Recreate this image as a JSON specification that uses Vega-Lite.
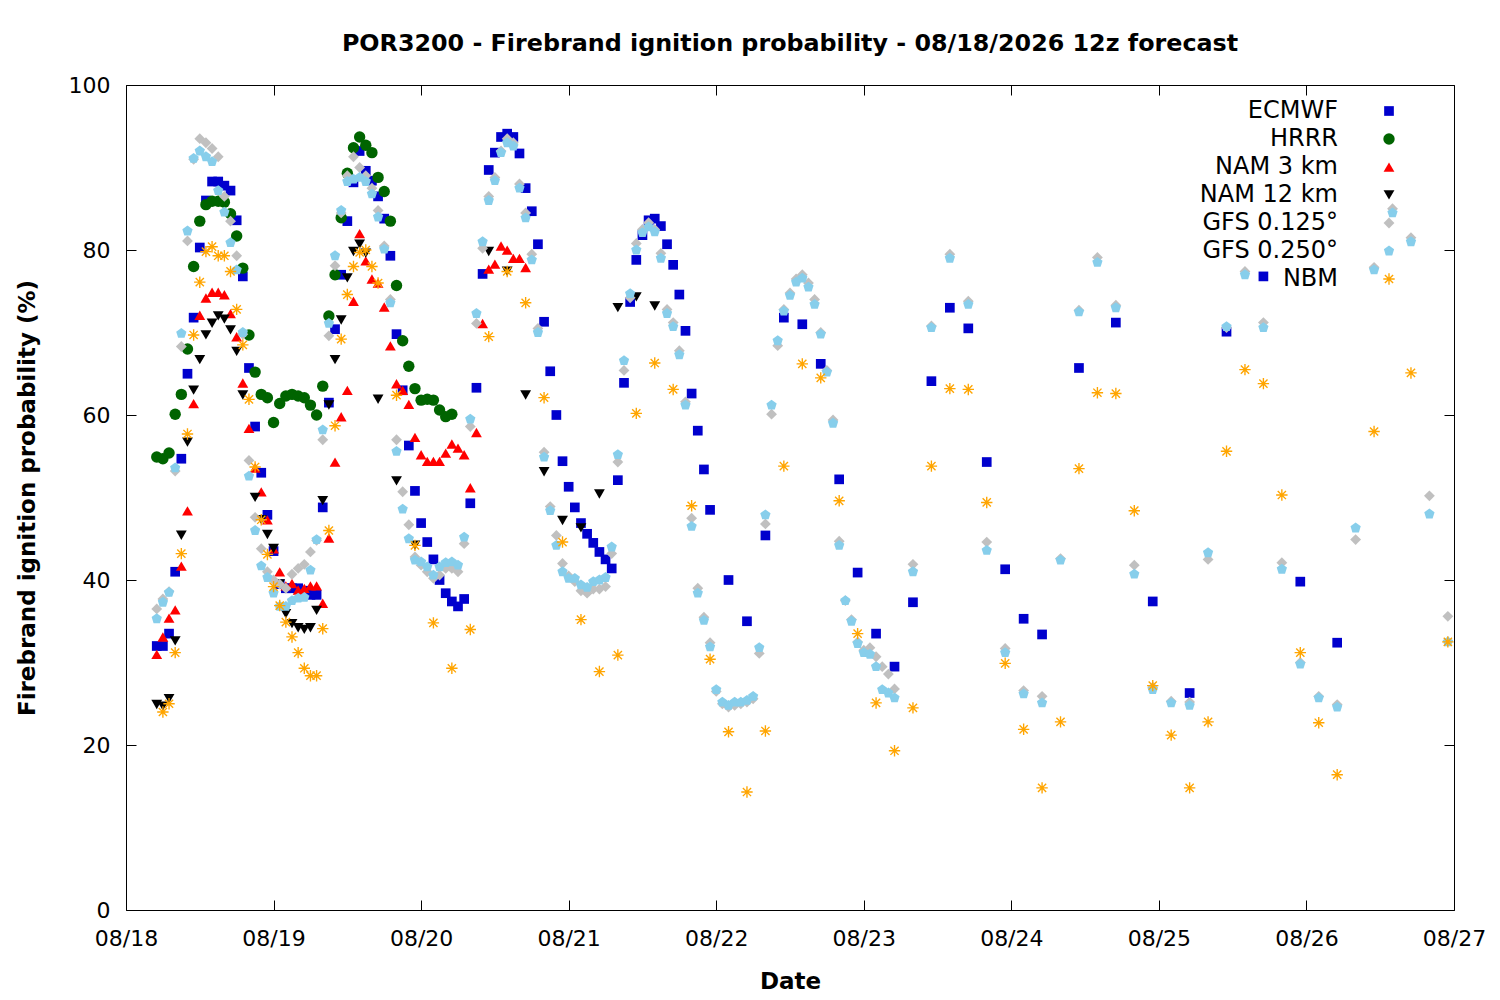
{
  "$schema": "https://vega.github.io/schema/vega-lite/v6.json",
  "width": 1328,
  "height": 825,
  "autosize": {"type": "none"},
  "padding": {"left": 126, "top": 85, "right": 46, "bottom": 90},
  "background": "white",
  "title": {
    "text": "POR3200 - Firebrand ignition probability - 08/18/2026 12z forecast",
    "font": "DejaVu Sans",
    "fontSize": 23.8,
    "fontWeight": "bold",
    "color": "black",
    "offset": 18
  },
  "datasets": {
    "models": [
      {"series": "ECMWF", "label": "ECMWF", "rank": 1},
      {"series": "HRRR", "label": "HRRR", "rank": 2},
      {"series": "NAM3", "label": "NAM 3 km", "rank": 3},
      {"series": "NAM12", "label": "NAM 12 km", "rank": 4},
      {"series": "GFS125", "label": "GFS 0.125°", "rank": 5},
      {"series": "GFS250", "label": "GFS 0.250°", "rank": 6},
      {"series": "NBM", "label": "NBM", "rank": 7}
    ],
    "forecast": [
      {"t": "2026-08-18T05:00", "ECMWF": 32.0, "HRRR": 54.9, "NAM3": 31.0, "NAM12": 24.9, "GFS125": 36.5, "GFS250": 35.3},
      {"t": "2026-08-18T06:00", "ECMWF": 32.0, "HRRR": 54.7, "NAM3": 33.1, "NAM12": 24.7, "GFS125": 37.7, "GFS250": 37.3, "NBM": 24.0},
      {"t": "2026-08-18T07:00", "ECMWF": 33.5, "HRRR": 55.4, "NAM3": 35.4, "NAM12": 25.6, "GFS125": 38.6, "GFS250": 38.5, "NBM": 25.0},
      {"t": "2026-08-18T08:00", "ECMWF": 41.0, "HRRR": 60.1, "NAM3": 36.4, "NAM12": 32.6, "GFS125": 53.2, "GFS250": 53.6, "NBM": 31.2},
      {"t": "2026-08-18T09:00", "ECMWF": 54.7, "HRRR": 62.5, "NAM3": 41.7, "NAM12": 45.4, "GFS125": 68.3, "GFS250": 69.9, "NBM": 43.2},
      {"t": "2026-08-18T10:00", "ECMWF": 65.0, "HRRR": 68.0, "NAM3": 48.4, "NAM12": 56.7, "GFS125": 81.1, "GFS250": 82.3, "NBM": 57.7},
      {"t": "2026-08-18T11:00", "ECMWF": 71.8, "HRRR": 78.0, "NAM3": 61.4, "NAM12": 63.0, "GFS125": 91.0, "GFS250": 91.1, "NBM": 69.7},
      {"t": "2026-08-18T12:00", "ECMWF": 80.3, "HRRR": 83.5, "NAM3": 72.1, "NAM12": 66.7, "GFS125": 93.5, "GFS250": 92.0, "NBM": 76.1},
      {"t": "2026-08-18T13:00", "ECMWF": 86.0, "HRRR": 85.5, "NAM3": 74.2, "NAM12": 69.7, "GFS125": 93.0, "GFS250": 91.3, "NBM": 79.8},
      {"t": "2026-08-18T14:00", "ECMWF": 88.3, "HRRR": 85.9, "NAM3": 74.9, "NAM12": 71.1, "GFS125": 92.3, "GFS250": 90.7, "NBM": 80.4},
      {"t": "2026-08-18T15:00", "ECMWF": 88.3, "HRRR": 85.9, "NAM3": 74.9, "NAM12": 72.0, "GFS125": 91.3, "GFS250": 87.2, "NBM": 79.3},
      {"t": "2026-08-18T16:00", "ECMWF": 87.8, "HRRR": 85.8, "NAM3": 74.6, "NAM12": 71.6, "GFS125": 86.5, "GFS250": 84.6, "NBM": 79.3},
      {"t": "2026-08-18T17:00", "ECMWF": 87.2, "HRRR": 84.4, "NAM3": 72.3, "NAM12": 70.3, "GFS125": 83.5, "GFS250": 80.9, "NBM": 77.4},
      {"t": "2026-08-18T18:00", "ECMWF": 83.6, "HRRR": 81.7, "NAM3": 69.5, "NAM12": 67.7, "GFS125": 79.3, "GFS250": 77.6, "NBM": 72.8},
      {"t": "2026-08-18T19:00", "ECMWF": 76.8, "HRRR": 77.8, "NAM3": 63.9, "NAM12": 62.4, "GFS125": 69.8, "GFS250": 70.0, "NBM": 68.5},
      {"t": "2026-08-18T20:00", "ECMWF": 65.7, "HRRR": 69.7, "NAM3": 58.4, "GFS125": 54.5, "GFS250": 52.6, "NBM": 61.9},
      {"t": "2026-08-18T21:00", "ECMWF": 58.6, "HRRR": 65.2, "NAM3": 53.6, "NAM12": 50.0, "GFS125": 47.6, "GFS250": 46.0, "NBM": 53.7},
      {"t": "2026-08-18T22:00", "ECMWF": 53.0, "HRRR": 62.5, "NAM3": 50.7, "NAM12": 47.3, "GFS125": 43.8, "GFS250": 41.7, "NBM": 47.3},
      {"t": "2026-08-18T23:00", "ECMWF": 47.9, "HRRR": 62.1, "NAM3": 47.3, "NAM12": 45.5, "GFS125": 41.0, "GFS250": 40.3, "NBM": 43.1},
      {"t": "2026-08-19T00:00", "ECMWF": 43.5, "HRRR": 59.1, "NAM3": 43.8, "NAM12": 43.8, "GFS125": 40.0, "GFS250": 38.4, "NBM": 39.2},
      {"t": "2026-08-19T01:00", "ECMWF": 39.5, "HRRR": 61.4, "NAM3": 41.0, "NAM12": 39.5, "GFS125": 39.5, "GFS250": 36.8, "NBM": 36.9},
      {"t": "2026-08-19T02:00", "ECMWF": 39.0, "HRRR": 62.3, "NAM3": 39.3, "NAM12": 35.9, "GFS125": 39.0, "GFS250": 36.8, "NBM": 34.9},
      {"t": "2026-08-19T03:00", "ECMWF": 39.0, "HRRR": 62.5, "NAM3": 39.6, "NAM12": 34.7, "GFS125": 40.7, "GFS250": 37.5, "NBM": 33.1},
      {"t": "2026-08-19T04:00", "ECMWF": 39.0, "HRRR": 62.3, "NAM3": 38.8, "NAM12": 34.2, "GFS125": 41.4, "GFS250": 37.8, "NBM": 31.2},
      {"t": "2026-08-19T05:00", "ECMWF": 38.7, "HRRR": 62.1, "NAM3": 39.0, "NAM12": 34.0, "GFS125": 41.9, "GFS250": 37.9, "NBM": 29.3},
      {"t": "2026-08-19T06:00", "ECMWF": 38.2, "HRRR": 61.2, "NAM3": 39.3, "NAM12": 34.2, "GFS125": 43.4, "GFS250": 41.2, "NBM": 28.4},
      {"t": "2026-08-19T07:00", "ECMWF": 38.2, "HRRR": 60.0, "NAM3": 39.3, "NAM12": 36.3, "GFS125": 44.8, "GFS250": 44.9, "NBM": 28.4},
      {"t": "2026-08-19T08:00", "ECMWF": 48.8, "HRRR": 63.5, "NAM3": 37.2, "NAM12": 49.6, "GFS125": 57.0, "GFS250": 58.2, "NBM": 34.1},
      {"t": "2026-08-19T09:00", "ECMWF": 61.5, "HRRR": 72.0, "NAM3": 45.1, "NAM12": 61.2, "GFS125": 69.6, "GFS250": 71.1, "NBM": 46.0},
      {"t": "2026-08-19T10:00", "ECMWF": 70.4, "HRRR": 77.0, "NAM3": 54.3, "NAM12": 66.7, "GFS125": 78.1, "GFS250": 79.3, "NBM": 58.7},
      {"t": "2026-08-19T11:00", "ECMWF": 77.0, "HRRR": 83.9, "NAM3": 59.8, "NAM12": 71.5, "GFS125": 84.5, "GFS250": 84.8, "NBM": 69.2},
      {"t": "2026-08-19T12:00", "ECMWF": 83.5, "HRRR": 89.3, "NAM3": 63.0, "NAM12": 76.6, "GFS125": 89.0, "GFS250": 88.3, "NBM": 74.6},
      {"t": "2026-08-19T13:00", "ECMWF": 88.2, "HRRR": 92.4, "NAM3": 73.8, "NAM12": 79.8, "GFS125": 91.3, "GFS250": 88.6, "NBM": 78.0},
      {"t": "2026-08-19T14:00", "ECMWF": 92.0, "HRRR": 93.7, "NAM3": 82.0, "NAM12": 80.7, "GFS125": 90.0, "GFS250": 88.8, "NBM": 79.7},
      {"t": "2026-08-19T15:00", "ECMWF": 89.6, "HRRR": 92.7, "NAM3": 78.7, "NAM12": 79.6, "GFS125": 89.0, "GFS250": 88.3, "NBM": 80.0},
      {"t": "2026-08-19T16:00", "ECMWF": 88.4, "HRRR": 91.8, "NAM3": 76.5, "GFS125": 87.5, "GFS250": 86.8, "NBM": 78.0},
      {"t": "2026-08-19T17:00", "ECMWF": 86.5, "HRRR": 88.8, "NAM3": 76.0, "NAM12": 61.9, "GFS125": 84.8, "GFS250": 84.0, "NBM": 76.0},
      {"t": "2026-08-19T18:00", "ECMWF": 83.8, "HRRR": 87.1, "NAM3": 73.1, "GFS125": 80.5, "GFS250": 80.1},
      {"t": "2026-08-19T19:00", "ECMWF": 79.3, "HRRR": 83.5, "NAM3": 68.4, "GFS125": 74.0, "GFS250": 73.6},
      {"t": "2026-08-19T20:00", "ECMWF": 69.8, "HRRR": 75.7, "NAM3": 63.8, "NAM12": 52.0, "GFS125": 57.0, "GFS250": 55.6, "NBM": 62.4},
      {"t": "2026-08-19T21:00", "ECMWF": 63.0, "HRRR": 69.0, "NAM3": 63.0, "GFS125": 50.7, "GFS250": 48.6},
      {"t": "2026-08-19T22:00", "ECMWF": 56.3, "HRRR": 65.9, "NAM3": 61.3, "GFS125": 46.7, "GFS250": 45.0},
      {"t": "2026-08-19T23:00", "ECMWF": 50.8, "HRRR": 63.2, "NAM3": 57.3, "NAM12": 44.2, "GFS125": 42.8, "GFS250": 42.4, "NBM": 44.2},
      {"t": "2026-08-20T00:00", "ECMWF": 46.9, "HRRR": 61.8, "NAM3": 55.2, "GFS125": 41.8, "GFS250": 42.2},
      {"t": "2026-08-20T01:00", "ECMWF": 44.6, "HRRR": 61.9, "NAM3": 54.4, "GFS125": 41.0, "GFS250": 41.6},
      {"t": "2026-08-20T02:00", "ECMWF": 42.5, "HRRR": 61.8, "NAM3": 54.4, "GFS125": 40.2, "GFS250": 40.6, "NBM": 34.8},
      {"t": "2026-08-20T03:00", "ECMWF": 40.0, "HRRR": 60.6, "NAM3": 54.4, "GFS125": 40.6, "GFS250": 41.6},
      {"t": "2026-08-20T04:00", "ECMWF": 38.4, "HRRR": 59.8, "NAM3": 55.4, "GFS125": 41.4, "GFS250": 42.1},
      {"t": "2026-08-20T05:00", "ECMWF": 37.4, "HRRR": 60.1, "NAM3": 56.5, "GFS125": 41.4, "GFS250": 42.2, "NBM": 29.3},
      {"t": "2026-08-20T06:00", "ECMWF": 36.8, "NAM3": 56.0, "GFS125": 41.0, "GFS250": 41.8},
      {"t": "2026-08-20T07:00", "ECMWF": 37.7, "NAM3": 55.2, "GFS125": 44.4, "GFS250": 45.2},
      {"t": "2026-08-20T08:00", "ECMWF": 49.3, "NAM3": 51.2, "GFS125": 58.6, "GFS250": 59.5, "NBM": 34.0},
      {"t": "2026-08-20T09:00", "ECMWF": 63.3, "NAM3": 57.9, "GFS125": 71.1, "GFS250": 72.3},
      {"t": "2026-08-20T10:00", "ECMWF": 77.1, "NAM3": 71.1, "GFS125": 80.2, "GFS250": 81.0},
      {"t": "2026-08-20T11:00", "ECMWF": 89.7, "NAM3": 77.7, "NAM12": 79.8, "GFS125": 86.5, "GFS250": 86.0, "NBM": 69.5},
      {"t": "2026-08-20T12:00", "ECMWF": 91.8, "NAM3": 78.3, "GFS125": 88.8, "GFS250": 88.4},
      {"t": "2026-08-20T13:00", "ECMWF": 93.7, "NAM3": 80.5, "GFS125": 92.0, "GFS250": 91.8},
      {"t": "2026-08-20T14:00", "ECMWF": 94.1, "NAM3": 80.0, "NAM12": 77.4, "GFS125": 93.5, "GFS250": 93.0, "NBM": 77.4},
      {"t": "2026-08-20T15:00", "ECMWF": 93.7, "NAM3": 79.0, "GFS125": 93.0, "GFS250": 92.6},
      {"t": "2026-08-20T16:00", "ECMWF": 91.7, "NAM3": 79.0, "GFS125": 88.0, "GFS250": 87.5},
      {"t": "2026-08-20T17:00", "ECMWF": 87.5, "NAM3": 77.9, "NAM12": 62.4, "GFS125": 84.5, "GFS250": 83.9, "NBM": 73.6},
      {"t": "2026-08-20T18:00", "ECMWF": 84.7, "GFS125": 79.5, "GFS250": 78.8},
      {"t": "2026-08-20T19:00", "ECMWF": 80.7, "GFS125": 70.5, "GFS250": 70.0},
      {"t": "2026-08-20T20:00", "ECMWF": 71.3, "NAM12": 53.1, "GFS125": 55.5, "GFS250": 54.9, "NBM": 62.1},
      {"t": "2026-08-20T21:00", "ECMWF": 65.3, "GFS125": 48.9, "GFS250": 48.4},
      {"t": "2026-08-20T22:00", "ECMWF": 60.0, "GFS125": 45.4, "GFS250": 44.2},
      {"t": "2026-08-20T23:00", "ECMWF": 54.4, "NAM12": 47.2, "GFS125": 42.0, "GFS250": 41.0, "NBM": 44.6},
      {"t": "2026-08-21T00:00", "ECMWF": 51.3, "GFS125": 40.5, "GFS250": 40.2},
      {"t": "2026-08-21T01:00", "ECMWF": 48.8, "GFS125": 39.8, "GFS250": 40.2},
      {"t": "2026-08-21T02:00", "ECMWF": 46.9, "NAM12": 46.3, "GFS125": 38.7, "GFS250": 39.4, "NBM": 35.2},
      {"t": "2026-08-21T03:00", "ECMWF": 45.6, "GFS125": 38.4, "GFS250": 39.1},
      {"t": "2026-08-21T04:00", "ECMWF": 44.5, "GFS125": 38.9, "GFS250": 39.8},
      {"t": "2026-08-21T05:00", "ECMWF": 43.4, "NAM12": 50.4, "GFS125": 38.9, "GFS250": 40.0, "NBM": 28.9},
      {"t": "2026-08-21T06:00", "ECMWF": 42.5, "GFS125": 39.2, "GFS250": 40.3},
      {"t": "2026-08-21T07:00", "ECMWF": 41.4, "GFS125": 43.2, "GFS250": 44.0},
      {"t": "2026-08-21T08:00", "ECMWF": 52.1, "NAM12": 73.0, "GFS125": 54.3, "GFS250": 55.2, "NBM": 30.9},
      {"t": "2026-08-21T09:00", "ECMWF": 63.9, "GFS125": 65.4, "GFS250": 66.6},
      {"t": "2026-08-21T10:00", "ECMWF": 73.7, "GFS125": 74.2, "GFS250": 74.7},
      {"t": "2026-08-21T11:00", "ECMWF": 78.8, "NAM12": 74.3, "GFS125": 80.8, "GFS250": 80.0, "NBM": 60.2},
      {"t": "2026-08-21T12:00", "ECMWF": 81.8, "GFS125": 82.5, "GFS250": 82.1},
      {"t": "2026-08-21T13:00", "ECMWF": 83.6, "GFS125": 83.3, "GFS250": 82.8},
      {"t": "2026-08-21T14:00", "ECMWF": 83.8, "NAM12": 73.2, "GFS125": 82.5, "GFS250": 82.2, "NBM": 66.3},
      {"t": "2026-08-21T15:00", "ECMWF": 82.9, "GFS125": 79.6, "GFS250": 79.0},
      {"t": "2026-08-21T16:00", "ECMWF": 80.7, "GFS125": 72.8, "GFS250": 72.3},
      {"t": "2026-08-21T17:00", "ECMWF": 78.2, "GFS125": 71.2, "GFS250": 70.7, "NBM": 63.1},
      {"t": "2026-08-21T18:00", "ECMWF": 74.6, "GFS125": 67.8, "GFS250": 67.3},
      {"t": "2026-08-21T19:00", "ECMWF": 70.2, "GFS125": 61.6, "GFS250": 61.2},
      {"t": "2026-08-21T20:00", "ECMWF": 62.6, "GFS125": 47.5, "GFS250": 46.5, "NBM": 49.0},
      {"t": "2026-08-21T21:00", "ECMWF": 58.1, "GFS125": 39.0, "GFS250": 38.4},
      {"t": "2026-08-21T22:00", "ECMWF": 53.4, "GFS125": 35.5, "GFS250": 35.1},
      {"t": "2026-08-21T23:00", "ECMWF": 48.5, "GFS125": 32.4, "GFS250": 31.9, "NBM": 30.4},
      {"t": "2026-08-22T00:00", "GFS125": 26.5, "GFS250": 26.7},
      {"t": "2026-08-22T01:00", "GFS125": 25.0, "GFS250": 25.2},
      {"t": "2026-08-22T02:00", "ECMWF": 40.0, "GFS125": 24.6, "GFS250": 24.8, "NBM": 21.6},
      {"t": "2026-08-22T03:00", "GFS125": 24.8, "GFS250": 25.2},
      {"t": "2026-08-22T04:00", "GFS125": 25.0, "GFS250": 25.2},
      {"t": "2026-08-22T05:00", "ECMWF": 35.0, "GFS125": 25.2, "GFS250": 25.4, "NBM": 14.3},
      {"t": "2026-08-22T06:00", "GFS125": 25.6, "GFS250": 25.9},
      {"t": "2026-08-22T07:00", "GFS125": 31.1, "GFS250": 31.8},
      {"t": "2026-08-22T08:00", "ECMWF": 45.4, "GFS125": 46.8, "GFS250": 47.9, "NBM": 21.7},
      {"t": "2026-08-22T09:00", "GFS125": 60.1, "GFS250": 61.2},
      {"t": "2026-08-22T10:00", "GFS125": 68.4, "GFS250": 69.0},
      {"t": "2026-08-22T11:00", "ECMWF": 71.8, "GFS125": 72.8, "GFS250": 72.6, "NBM": 53.8},
      {"t": "2026-08-22T12:00", "GFS125": 74.8, "GFS250": 74.5},
      {"t": "2026-08-22T13:00", "GFS125": 76.5, "GFS250": 76.1},
      {"t": "2026-08-22T14:00", "ECMWF": 71.0, "GFS125": 77.0, "GFS250": 76.6, "NBM": 66.2},
      {"t": "2026-08-22T15:00", "GFS125": 76.0, "GFS250": 75.5},
      {"t": "2026-08-22T16:00", "GFS125": 74.0, "GFS250": 73.4},
      {"t": "2026-08-22T17:00", "ECMWF": 66.2, "GFS125": 70.0, "GFS250": 69.8, "NBM": 64.5},
      {"t": "2026-08-22T18:00", "GFS125": 65.4, "GFS250": 65.2},
      {"t": "2026-08-22T19:00", "GFS125": 59.4, "GFS250": 59.0},
      {"t": "2026-08-22T20:00", "ECMWF": 52.2, "GFS125": 44.7, "GFS250": 44.2, "NBM": 49.6},
      {"t": "2026-08-22T21:00", "GFS125": 37.5, "GFS250": 37.5},
      {"t": "2026-08-22T22:00", "GFS125": 35.2, "GFS250": 35.0},
      {"t": "2026-08-22T23:00", "ECMWF": 40.9, "GFS125": 32.5, "GFS250": 32.3, "NBM": 33.5},
      {"t": "2026-08-23T00:00", "GFS125": 31.5, "GFS250": 31.2},
      {"t": "2026-08-23T01:00", "GFS125": 31.8, "GFS250": 31.0},
      {"t": "2026-08-23T02:00", "ECMWF": 33.5, "GFS125": 30.7, "GFS250": 29.5, "NBM": 25.1},
      {"t": "2026-08-23T03:00", "GFS125": 29.5, "GFS250": 26.7},
      {"t": "2026-08-23T04:00", "GFS125": 28.6, "GFS250": 26.3},
      {"t": "2026-08-23T05:00", "ECMWF": 29.5, "GFS125": 26.8, "GFS250": 25.7, "NBM": 19.3},
      {"t": "2026-08-23T08:00", "ECMWF": 37.3, "GFS125": 41.9, "GFS250": 41.0, "NBM": 24.5},
      {"t": "2026-08-23T11:00", "ECMWF": 64.1, "GFS125": 70.8, "GFS250": 70.6, "NBM": 53.8},
      {"t": "2026-08-23T14:00", "ECMWF": 73.0, "GFS125": 79.5, "GFS250": 79.0, "NBM": 63.2},
      {"t": "2026-08-23T17:00", "ECMWF": 70.5, "GFS125": 73.8, "GFS250": 73.4, "NBM": 63.1},
      {"t": "2026-08-23T20:00", "ECMWF": 54.3, "GFS125": 44.6, "GFS250": 43.6, "NBM": 49.4},
      {"t": "2026-08-23T23:00", "ECMWF": 41.3, "GFS125": 31.7, "GFS250": 31.2, "NBM": 29.9},
      {"t": "2026-08-24T02:00", "ECMWF": 35.3, "GFS125": 26.6, "GFS250": 26.2, "NBM": 21.9},
      {"t": "2026-08-24T05:00", "ECMWF": 33.4, "GFS125": 25.9, "GFS250": 25.1, "NBM": 14.8},
      {"t": "2026-08-24T08:00", "GFS125": 42.6, "GFS250": 42.4, "NBM": 22.8},
      {"t": "2026-08-24T11:00", "ECMWF": 65.7, "GFS125": 72.7, "GFS250": 72.5, "NBM": 53.5},
      {"t": "2026-08-24T14:00", "GFS125": 79.1, "GFS250": 78.5, "NBM": 62.7},
      {"t": "2026-08-24T17:00", "ECMWF": 71.2, "GFS125": 73.3, "GFS250": 73.0, "NBM": 62.6},
      {"t": "2026-08-24T20:00", "GFS125": 41.8, "GFS250": 40.7, "NBM": 48.4},
      {"t": "2026-08-24T23:00", "ECMWF": 37.4, "GFS125": 27.0, "GFS250": 26.7, "NBM": 27.2},
      {"t": "2026-08-25T02:00", "GFS125": 25.3, "GFS250": 25.1, "NBM": 21.2},
      {"t": "2026-08-25T05:00", "ECMWF": 26.3, "GFS125": 25.2, "GFS250": 24.8, "NBM": 14.8},
      {"t": "2026-08-25T08:00", "GFS125": 42.5, "GFS250": 43.3, "NBM": 22.8},
      {"t": "2026-08-25T11:00", "ECMWF": 70.1, "GFS125": 70.6, "GFS250": 70.7, "NBM": 55.6},
      {"t": "2026-08-25T14:00", "GFS125": 77.4, "GFS250": 77.0, "NBM": 65.5},
      {"t": "2026-08-25T17:00", "ECMWF": 76.8, "GFS125": 71.2, "GFS250": 70.6, "NBM": 63.8},
      {"t": "2026-08-25T20:00", "GFS125": 42.1, "GFS250": 41.3, "NBM": 50.3},
      {"t": "2026-08-25T23:00", "ECMWF": 39.8, "GFS125": 30.0, "GFS250": 29.8, "NBM": 31.2},
      {"t": "2026-08-26T02:00", "GFS125": 25.9, "GFS250": 25.7, "NBM": 22.7},
      {"t": "2026-08-26T05:00", "ECMWF": 32.4, "GFS125": 24.9, "GFS250": 24.6, "NBM": 16.4},
      {"t": "2026-08-26T08:00", "GFS125": 44.9, "GFS250": 46.3},
      {"t": "2026-08-26T11:00", "GFS125": 77.9, "GFS250": 77.6, "NBM": 58.0},
      {"t": "2026-08-26T14:00", "GFS125": 85.0, "GFS250": 84.5},
      {"t": "2026-08-26T17:00", "GFS125": 81.5, "GFS250": 81.0, "NBM": 65.1},
      {"t": "2026-08-26T20:00", "GFS125": 50.2, "GFS250": 48.0},
      {"t": "2026-08-26T23:00", "GFS125": 35.6, "GFS250": 32.5, "NBM": 32.5}
    ]
  },
  "data": {"name": "forecast"},
  "transform": [
    {"fold": ["ECMWF", "HRRR", "NAM3", "NAM12", "GFS125", "GFS250", "NBM"], "as": ["series", "p"]},
    {"filter": "isValid(datum.p)"},
    {"lookup": "series", "from": {"data": {"name": "models"}, "key": "series", "fields": ["label", "rank"]}}
  ],
  "layer": [
    {
      "mark": {"type": "point", "filled": true, "size": 130, "opacity": 1},
      "encoding": {
        "x": {
          "field": "t",
          "type": "temporal",
          "title": "Date",
          "scale": {"domain": [{"year": 2026, "month": 8, "date": 18}, {"year": 2026, "month": 8, "date": 27}]},
          "axis": {
            "format": "%m/%d",
            "values": [
              {"year": 2026, "month": 8, "date": 18}, {"year": 2026, "month": 8, "date": 19},
              {"year": 2026, "month": 8, "date": 20}, {"year": 2026, "month": 8, "date": 21},
              {"year": 2026, "month": 8, "date": 22}, {"year": 2026, "month": 8, "date": 23},
              {"year": 2026, "month": 8, "date": 24}, {"year": 2026, "month": 8, "date": 25},
              {"year": 2026, "month": 8, "date": 26}, {"year": 2026, "month": 8, "date": 27}
            ],
            "labelPadding": 28,
            "titlePadding": 21
          }
        },
        "y": {
          "field": "p",
          "type": "quantitative",
          "title": "Firebrand ignition probability (%)",
          "scale": {"domain": [0, 100]},
          "axis": {"values": [0, 20, 40, 60, 80, 100], "labelPadding": 26, "titlePadding": 29}
        },
        "color": {
          "field": "label",
          "type": "nominal",
          "title": null,
          "scale": {
            "domain": ["ECMWF", "HRRR", "NAM 3 km", "NAM 12 km", "GFS 0.125°", "GFS 0.250°", "NBM"],
            "range": ["#0000cd", "#006400", "#ff0000", "#000000", "#c0c0c0", "#87ceeb", "#ffa500"]
          },
          "legend": {
            "orient": "none",
            "legendX": 1251,
            "legendY": 14,
            "padding": 0,
            "labelFontSize": 24,
            "labelAlign": "right",
            "labelOffset": -63,
            "labelLimit": 400,
            "rowPadding": 4,
            "symbolSize": 130
          }
        },
        "shape": {
          "field": "label",
          "type": "nominal",
          "title": null,
          "scale": {
            "domain": ["ECMWF", "HRRR", "NAM 3 km", "NAM 12 km", "GFS 0.125°", "GFS 0.250°", "NBM"],
            "range": [
              "M-0.85,-0.85L0.85,-0.85L0.85,0.85L-0.85,0.85Z",
              "circle",
              "M0,-0.8L0.95,0.85L-0.95,0.85Z",
              "M0,0.8L0.95,-0.85L-0.95,-0.85Z",
              "M0,-0.95L0.95,0L0,0.95L-0.95,0Z",
              "M0,-0.95L0.9,-0.29L0.56,0.77L-0.56,0.77L-0.9,-0.29Z",
              "M-1,-0.12L1,-0.12L1,0.12L-1,0.12ZM-0.12,-1L0.12,-1L0.12,1L-0.12,1ZM-0.635,-0.805L0.805,0.635L0.635,0.805L-0.805,-0.635ZM0.635,-0.805L0.805,-0.635L-0.635,0.805L-0.805,0.635Z"
            ]
          }
        },
        "order": {"field": "rank", "type": "quantitative"}
      }
    },
    {
      "mark": {"type": "point", "opacity": 0},
      "encoding": {
        "x": {"field": "t", "type": "temporal", "axis": {"orient": "top", "labels": false, "title": null,
          "values": [
              {"year": 2026, "month": 8, "date": 18}, {"year": 2026, "month": 8, "date": 19},
              {"year": 2026, "month": 8, "date": 20}, {"year": 2026, "month": 8, "date": 21},
              {"year": 2026, "month": 8, "date": 22}, {"year": 2026, "month": 8, "date": 23},
              {"year": 2026, "month": 8, "date": 24}, {"year": 2026, "month": 8, "date": 25},
              {"year": 2026, "month": 8, "date": 26}, {"year": 2026, "month": 8, "date": 27}
            ]}},
        "y": {"field": "p", "type": "quantitative", "axis": {"orient": "right", "labels": false, "title": null, "values": [0, 20, 40, 60, 80, 100]}}
      }
    }
  ],
  "resolve": {"axis": {"x": "independent", "y": "independent"}},
  "config": {
    "font": "DejaVu Sans",
    "view": {"stroke": "black", "strokeWidth": 1},
    "axis": {
      "domain": false,
      "grid": false,
      "ticks": true,
      "tickSize": -10,
      "tickColor": "black",
      "labelColor": "black",
      "labelFontSize": 22,
      "labelFlush": false,
      "labelOverlap": false,
      "titleColor": "black",
      "titleFontSize": 23,
      "titleFontWeight": "bold"
    },
    "legend": {"labelColor": "black", "symbolOpacity": 1}
  }
}
